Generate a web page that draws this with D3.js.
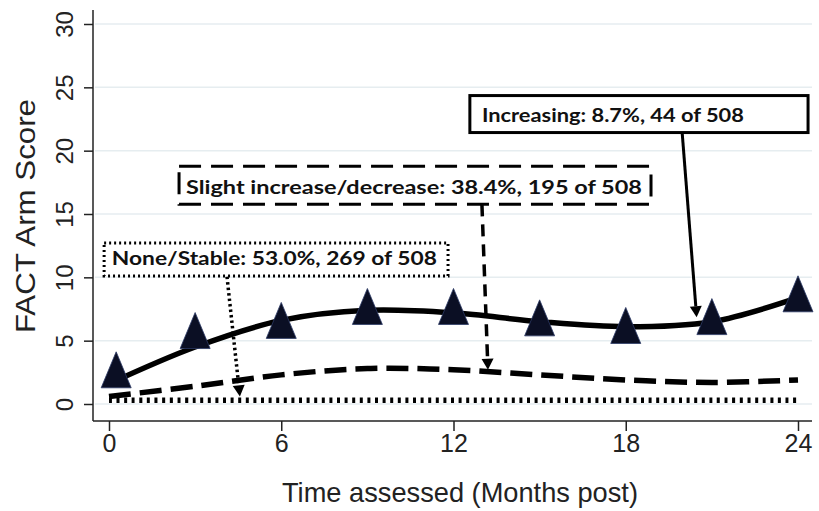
<!DOCTYPE html>
<html><head><meta charset="utf-8">
<script src="https://cdn.jsdelivr.net/npm/d3@7"></script>
<style>body{margin:0;background:#fff}svg{display:block}</style>
</head><body>
<svg id="c" width="819" height="511"></svg>
<script>
// ---- data ----
const fitMonths = [0, 3, 6, 9, 12, 15, 18, 21, 24];
const obsMonths = [0.25, 3, 6, 9, 12, 15, 18, 21, 24];
const increasingObs = [2.7, 5.8, 6.6, 7.7, 7.7, 6.8, 6.2, 6.9, 8.7];
const increasingFit = [1.6, 4.5, 6.6, 7.4, 7.2, 6.5, 6.1, 6.5, 8.4];
const slightFit = [0.6, 1.4, 2.3, 2.8, 2.7, 2.3, 1.9, 1.7, 1.9];
const stableFit = [0.3, 0.3, 0.3, 0.3, 0.3, 0.3, 0.3, 0.3, 0.3];
const xTicks = [0, 6, 12, 18, 24];
const yTicks = [0, 5, 10, 15, 20, 25, 30];
const labels = {
  increasing: "Increasing: 8.7%, 44 of 508",
  slight: "Slight increase/decrease: 38.4%, 195 of 508",
  stable: "None/Stable: 53.0%, 269 of 508",
  xTitle: "Time assessed (Months post)",
  yTitle: "FACT Arm Score"
};

const svg = d3.select("#c");
const x = d3.scaleLinear().domain([0, 24]).range([109, 798]);
const y = d3.scaleLinear().domain([0, 30]).range([404, 24]);
const axisFont = "'Liberation Sans', Arial, sans-serif";
const boxFont = "Lato, 'Open Sans', sans-serif";

// gridlines
svg.append("g").selectAll("line").data(yTicks).join("line")
  .attr("x1", 95).attr("x2", 812)
  .attr("y1", d => y(d)).attr("y2", d => y(d))
  .attr("stroke", "#e6edf0").attr("stroke-width", 1.5);

// y axis
const yAx = svg.append("g").attr("transform", "translate(93,0)")
  .call(d3.axisLeft(y).tickValues(yTicks).tickSize(9).tickFormat(d3.format("d")));
yAx.select(".domain").remove();
yAx.append("line").attr("x1", 0).attr("x2", 0).attr("y1", 10).attr("y2", 421).attr("stroke", "#222").attr("stroke-width", 1.5);
yAx.selectAll(".tick line").attr("stroke", "#222").attr("stroke-width", 1.5);
yAx.selectAll(".tick text")
  .attr("font-family", axisFont).attr("font-size", 24).attr("fill", "#222")
  .attr("text-anchor", "middle").attr("x", null).attr("dy", null)
  .attr("transform", "translate(-20,0) rotate(-90)").attr("y", 0);

// x axis
const xAx = svg.append("g").attr("transform", "translate(0,421)")
  .call(d3.axisBottom(x).tickValues(xTicks).tickSize(10).tickFormat(d3.format("d")));
xAx.select(".domain").remove();
xAx.append("line").attr("x1", 93).attr("x2", 812).attr("y1", 0).attr("y2", 0).attr("stroke", "#222").attr("stroke-width", 1.5);
xAx.selectAll(".tick line").attr("stroke", "#222").attr("stroke-width", 1.5);
xAx.selectAll(".tick text")
  .attr("font-family", axisFont).attr("font-size", 25).attr("fill", "#222")
  .attr("y", 31).attr("dy", null);

// axis titles
svg.append("text").attr("x", 460).attr("y", 502).attr("text-anchor", "middle")
  .attr("font-family", axisFont).attr("font-size", 28).attr("fill", "#222")
  .attr("textLength", 356).attr("lengthAdjust", "spacingAndGlyphs")
  .text(labels.xTitle);
svg.append("text").attr("transform", "translate(35,216) rotate(-90)").attr("text-anchor", "middle")
  .attr("font-family", axisFont).attr("font-size", 27).attr("fill", "#222")
  .attr("textLength", 234).attr("lengthAdjust", "spacingAndGlyphs")
  .text(labels.yTitle);

// lines
const line = d3.line().x(d => x(d[0])).y(d => y(d[1])).curve(d3.curveCatmullRom.alpha(0.5));
const zip = (ms, arr) => ms.map((m, i) => [m, arr[i]]);
svg.append("path").datum(zip(fitMonths, stableFit)).attr("d", line).attr("fill", "none")
  .attr("stroke", "#000").attr("stroke-width", 5.5).attr("stroke-dasharray", "3,4.6");
svg.append("path").datum(zip(fitMonths, slightFit)).attr("d", line).attr("fill", "none")
  .attr("stroke", "#000").attr("stroke-width", 5.5).attr("stroke-dasharray", "22,9");
svg.append("path").datum(zip(fitMonths, increasingFit)).attr("d", line).attr("fill", "none")
  .attr("stroke", "#000").attr("stroke-width", 5.5);

// triangles (centred on their bounding box)
const tw = 30, th = 36;
const triPath = `M0,${-th / 2}L${tw / 2},${th / 2}L${-tw / 2},${th / 2}Z`;
svg.append("g").selectAll("path").data(zip(obsMonths, increasingObs)).join("path")
  .attr("d", triPath)
  .attr("transform", d => `translate(${x(d[0])},${y(d[1])})`)
  .attr("fill", "#0b0f24").attr("stroke", "#2c3a66").attr("stroke-width", 0.8);

// annotations (boxes and arrows, in data coords)
function arrow(x0, y0, x1, y1, dash, w) {
  const px0 = x(x0), py0 = y(y0), px1 = x(x1), py1 = y(y1);
  const ang = Math.atan2(py1 - py0, px1 - px0);
  const L = 11, W = 6;
  const bx = px1 - L * Math.cos(ang), by = py1 - L * Math.sin(ang);
  svg.append("line").attr("x1", px0).attr("y1", py0).attr("x2", bx).attr("y2", by)
    .attr("stroke", "#000").attr("stroke-width", w).attr("stroke-dasharray", dash);
  const nx = -Math.sin(ang), ny = Math.cos(ang);
  svg.append("path").attr("d", `M${px1},${py1}L${bx + nx * W},${by + ny * W}L${bx - nx * W},${by - ny * W}Z`)
    .attr("fill", "#000");
}
function box(x0, y0, x1, y1, dash, w, txt, tx, ty, tlen) {
  svg.append("rect").attr("x", x(x0)).attr("y", y(y0)).attr("width", x(x1) - x(x0)).attr("height", y(y1) - y(y0))
    .attr("fill", "#fff").attr("stroke", "#000").attr("stroke-width", w).attr("stroke-dasharray", dash);
  svg.append("text").attr("x", x(tx)).attr("y", y(ty)).attr("font-family", boxFont).attr("font-weight", 700)
    .attr("font-size", 19).attr("fill", "#111").attr("textLength", tlen).attr("lengthAdjust", "spacingAndGlyphs")
    .text(txt);
}
arrow(19.95, 21.86, 20.47, 6.85, null, 3);
box(12.57, 24.35, 24.35, 21.43, null, 3, labels.increasing, 12.99, 22.3, 262);
arrow(12.99, 15.76, 13.2, 2.7, "12,8", 3.5);
box(2.44, 18.76, 18.88, 15.76, "22,10", 3, labels.slight, 2.68, 16.55, 456);
arrow(4.11, 10.05, 4.56, 0.6, "2.5,3", 3.5);
box(-0.17, 12.71, 11.81, 10.1, "2,3", 3, labels.stable, 0.1, 10.95, 325);
</script>
</body></html>
